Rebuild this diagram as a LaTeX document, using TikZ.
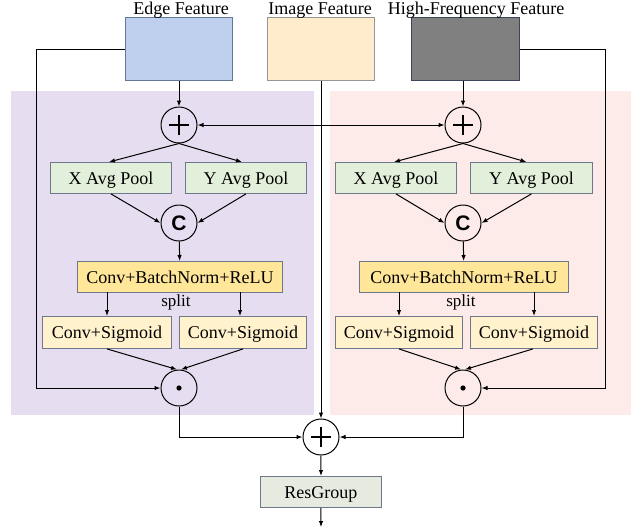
\documentclass[tikz,border=0pt]{standalone}
\usepackage{fontspec}
\setmainfont{Liberation Serif}
\newfontfamily\opsans{Liberation Sans}
\usetikzlibrary{arrows.meta}
\definecolor{edgefill}{RGB}{191,207,238}
\definecolor{edgeline}{RGB}{100,120,150}
\definecolor{imgfill}{RGB}{255,236,205}
\definecolor{imgline}{RGB}{150,150,150}
\definecolor{hffill}{RGB}{128,128,128}
\definecolor{hfline}{RGB}{60,70,90}
\definecolor{purplebg}{RGB}{230,222,240}
\definecolor{pinkbg}{RGB}{252,235,233}
\definecolor{poolfill}{RGB}{226,239,218}
\definecolor{boxline}{RGB}{110,120,140}
\definecolor{cbrfill}{RGB}{255,230,153}
\definecolor{sigfill}{RGB}{255,242,204}
\definecolor{resfill}{RGB}{231,234,223}
\tikzset{
  x=1pt, y=-1pt,
  arr/.style={-{Latex[length=6pt,width=4.5pt]}, line width=1pt, black},
  opnode/.style={circle, draw=black, line width=1pt, minimum size=36pt, inner sep=0pt},
  blk/.style={draw=boxline, line width=0.9pt, inner sep=0pt, text height=14.5pt, text depth=1.5pt,
    font=\fontsize{18}{20}\selectfont},
  catsym/.style={font=\opsans\bfseries\fontsize{21}{21}\selectfont},
}
\begin{document}
\begin{tikzpicture}
\useasboundingbox (0,0) rectangle (636,531);
% background panels
\fill[purplebg] (11,91) rectangle (314,415);
\fill[pinkbg] (330,91) rectangle (631,415);

% input feature maps
\node[draw=edgeline, fill=edgefill, line width=0.9pt, minimum width=107pt, minimum height=63pt, anchor=north west] (edge) at (125,17) {};
\node[draw=imgline, fill=imgfill, line width=0.9pt, minimum width=107pt, minimum height=63pt, anchor=north west] (img) at (267,17) {};
\node[draw=hfline, fill=hffill, line width=0.9pt, minimum width=108pt, minimum height=63pt, anchor=north west] (hf) at (411,17) {};
\node[font=\fontsize{18}{20}\selectfont, anchor=base] (edgelbl) at (181,14) {Edge Feature};
\node[font=\fontsize{18}{20}\selectfont, anchor=base] (imglbl) at (320,14) {Image Feature};
\node[font=\fontsize{18}{20}\selectfont, anchor=base] (hflbl) at (476,14) {High-Frequency Feature};

% operator circles
\node[opnode] (addL) at (179,125) {};
\node[opnode] (addR) at (463,125) {};
\node[opnode, catsym] (catL) at (179,223) {C};
\node[opnode, catsym] (catR) at (463,223) {C};
\node[opnode] (mulL) at (179,388) {};
\node[opnode] (mulR) at (463,388) {};
\node[opnode] (addO) at (321,437) {};
\foreach \n in {addL,addR,addO}{
  \draw[line width=1.1pt] ([xshift=-10pt]\n.center) -- ([xshift=10pt]\n.center);
  \draw[line width=1.1pt] ([yshift=-10pt]\n.center) -- ([yshift=10pt]\n.center);
}
\foreach \n in {mulL,mulR}{\fill (\n.center) circle (2.6pt);}

% left branch blocks
\node[blk, fill=poolfill, minimum width=121pt, minimum height=31pt, anchor=north west] (xpL) at (50,162) {X Avg Pool};
\node[blk, fill=poolfill, minimum width=121pt, minimum height=31pt, anchor=north west] (ypL) at (185,162) {Y Avg Pool};
\node[blk, fill=cbrfill, minimum width=205pt, minimum height=31pt, anchor=north west] (cbrL) at (77,261) {Conv+BatchNorm+ReLU};
\node[blk, fill=sigfill, minimum width=129pt, minimum height=32pt, anchor=north west] (s1L) at (42,316) {Conv+Sigmoid};
\node[blk, fill=sigfill, minimum width=127pt, minimum height=32pt, anchor=north west] (s2L) at (179,316) {Conv+Sigmoid};
\node[font=\fontsize{17}{20}\selectfont] (splitL) at (176,302) {split};

% right branch blocks
\node[blk, fill=poolfill, minimum width=121pt, minimum height=31pt, anchor=north west] (xpR) at (335,162) {X Avg Pool};
\node[blk, fill=poolfill, minimum width=122pt, minimum height=31pt, anchor=north west] (ypR) at (470,162) {Y Avg Pool};
\node[blk, fill=cbrfill, minimum width=209pt, minimum height=31pt, anchor=north west] (cbrR) at (359,261) {Conv+BatchNorm+ReLU};
\node[blk, fill=sigfill, minimum width=127pt, minimum height=32pt, anchor=north west] (s1R) at (335,316) {Conv+Sigmoid};
\node[blk, fill=sigfill, minimum width=127pt, minimum height=32pt, anchor=north west] (s2R) at (470,316) {Conv+Sigmoid};
\node[font=\fontsize{17}{20}\selectfont] (splitR) at (461,302) {split};

% output block
\node[blk, fill=resfill, minimum width=121pt, minimum height=31pt, anchor=north west] (res) at (260,476) {ResGroup};
\coordinate (outEnd) at (321,527);

% feature inputs to the adders
\draw[arr] (edge.south -| addL) -- (addL);
\draw[arr] (hf.south -| addR) -- (addR);
\draw[{Latex[length=6pt,width=4.5pt]}-{Latex[length=6pt,width=4.5pt]}, line width=1pt] (addL) -- (addR);

% skip paths around each branch
\coordinate (eL) at (36,49);
\coordinate (eR) at (605,49);
\draw[arr] (edge.west |- eL) -- (eL) |- (mulL);
\draw[arr] (hf.east |- eR) -- (eR) |- (mulR);
\draw[arr] (img.south -| addO) -- (addO);

% left branch flow
\draw[arr] (addL.south) -- ([xshift=-2pt]xpL.north);
\draw[arr] (addL.south) -- ([xshift=-4pt]ypL.north);
\draw[arr] (xpL.south) -- (catL.west);
\draw[arr] (ypL.south) -- (catL.east);
\draw[arr] (catL) -- (cbrL);
\draw[arr] (107,292) -- (107,316);
\draw[arr] (240,292) -- (240,316);
\draw[arr] (s1L.south) -- ([xshift=-2pt]mulL.north);
\draw[arr] (s2L.south) -- ([xshift=2pt]mulL.north);

% right branch flow
\draw[arr] (addR.south) -- ([xshift=-2pt]xpR.north);
\draw[arr] (addR.south) -- ([xshift=-5pt]ypR.north);
\draw[arr] (xpR.south) -- (catR.west);
\draw[arr] (ypR.south) -- (catR.east);
\draw[arr] (catR) -- (cbrR);
\draw[arr] (399,292) -- (399,316);
\draw[arr] (534,292) -- (534,316);
\draw[arr] (s1R.south) -- ([xshift=-2pt]mulR.north);
\draw[arr] ([xshift=-1pt]s2R.south) -- ([xshift=2pt]mulR.north);

% merge and output
\draw[arr] (mulL) |- (addO);
\draw[arr] (mulR) |- (addO);
\draw[arr] (addO) -- (res);
\draw[arr] (res) -- (outEnd);
\end{tikzpicture}
\end{document}
